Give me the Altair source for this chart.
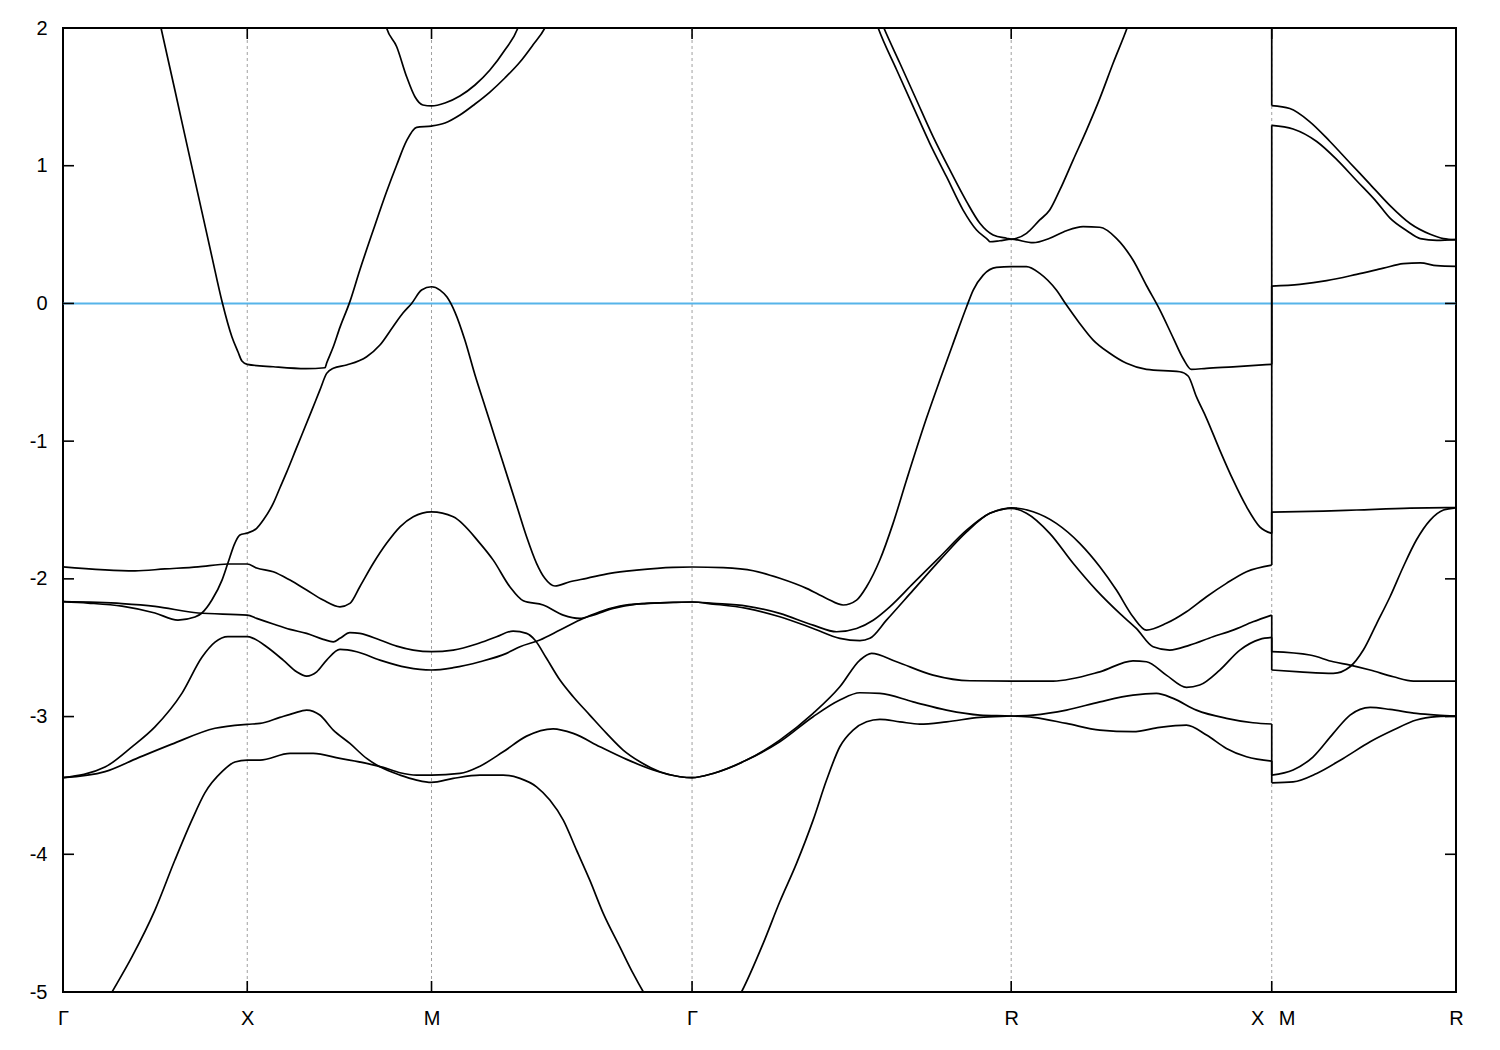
import altair as alt
import pandas as pd

# High-symmetry k positions (path length in units of |Gamma-X|)
SYM_K = [1.0, 2.0, 3.414, 5.146, 6.560]
LABEL_K = [0.0, 1.0, 2.0, 3.414, 5.146, 6.481, 6.641, 7.560]
LABEL_TEXT = ["Γ", "X", "M", "Γ", "R", "X", "M", "R"]
Y_TICKS = [-5, -4, -3, -2, -1, 0, 1, 2]
K_MIN, K_MAX = 0.0, 7.560
E_MIN, E_MAX = -5.0, 2.0
K_BREAK = 6.560

BAND_A = [
    (0.000, 2.80), (1.000, 2.60),
    (1.700, 2.35), (1.756, 2.000), (1.811, 1.864), (1.865, 1.646), (1.910, 1.501), (1.953, 1.441), (2.000, 1.434),
    (2.073, 1.455), (2.154, 1.506), (2.236, 1.586), (2.317, 1.695), (2.398, 1.840), (2.469, 2.000), (2.550, 2.40),
    (3.414, 3.40),
    (4.380, 2.25), (4.455, 2.000), (4.542, 1.744), (4.632, 1.477), (4.722, 1.211), (4.813, 0.969), (4.904, 0.739),
    (4.976, 0.582), (5.048, 0.497), (5.121, 0.473), (5.146, 0.467),
    (5.229, 0.509), (5.301, 0.606), (5.355, 0.678), (5.410, 0.824), (5.482, 1.041), (5.555, 1.259), (5.627, 1.489),
    (5.699, 1.744), (5.775, 2.000), (5.850, 2.30),
    (6.560, 2.60),
    (6.560, 1.436), (6.658, 1.415), (6.767, 1.319), (6.876, 1.176), (6.985, 1.020), (7.094, 0.865), (7.202, 0.710),
    (7.311, 0.580), (7.420, 0.502), (7.492, 0.471), (7.560, 0.463),
]

BAND_B = [
    (0.000, 3.60), (0.450, 2.50), (0.532, 2.000), (0.608, 1.544), (0.678, 1.120), (0.754, 0.665), (0.808, 0.340),
    (0.863, 0.014), (0.917, -0.244), (0.950, -0.353), (0.971, -0.418), (1.000, -0.442),
    (1.141, -0.460), (1.318, -0.474), (1.422, -0.467), (1.431, -0.433), (1.467, -0.315), (1.503, -0.174),
    (1.557, 0.013), (1.611, 0.243), (1.684, 0.533), (1.756, 0.811), (1.811, 1.005), (1.865, 1.182), (1.919, 1.279),
    (2.000, 1.288),
    (2.073, 1.310), (2.154, 1.368), (2.236, 1.448), (2.317, 1.535), (2.398, 1.637), (2.480, 1.753), (2.550, 1.876),
    (2.615, 2.000), (2.700, 2.30),
    (3.414, 3.20),
    (4.350, 2.30), (4.424, 2.000), (4.524, 1.697), (4.614, 1.429), (4.704, 1.163), (4.795, 0.920), (4.885, 0.678),
    (4.958, 0.533), (5.021, 0.460), (5.030, 0.448), (5.084, 0.455), (5.146, 0.466),
    (5.265, 0.441), (5.355, 0.473), (5.446, 0.528), (5.536, 0.557), (5.627, 0.553), (5.717, 0.473), (5.807, 0.315),
    (5.880, 0.130), (5.952, -0.045), (6.025, -0.250), (6.079, -0.400), (6.124, -0.479), (6.206, -0.471),
    (6.350, -0.460), (6.560, -0.442),
    (6.560, 1.293), (6.676, 1.267), (6.804, 1.176), (6.912, 1.046), (7.021, 0.891), (7.130, 0.736), (7.202, 0.619),
    (7.293, 0.528), (7.366, 0.471), (7.456, 0.458), (7.560, 0.463),
]

BAND_C = [
    (0.000, -2.166), (0.136, -2.176), (0.320, -2.198), (0.499, -2.248), (0.624, -2.299), (0.716, -2.277),
    (0.754, -2.248), (0.808, -2.154), (0.863, -2.009), (0.895, -1.885), (0.933, -1.740), (0.960, -1.682),
    (1.000, -1.667),
    (1.051, -1.633), (1.087, -1.573), (1.141, -1.452), (1.177, -1.340), (1.214, -1.225), (1.264, -1.060),
    (1.349, -0.780), (1.394, -0.630), (1.431, -0.508), (1.467, -0.471), (1.539, -0.447), (1.648, -0.387),
    (1.720, -0.302), (1.791, -0.169), (1.845, -0.070), (1.892, 0.000), (1.946, 0.097), (2.000, 0.121),
    (2.046, 0.097), (2.084, 0.046), (2.127, -0.063), (2.181, -0.266), (2.236, -0.520), (2.290, -0.746),
    (2.344, -0.973), (2.416, -1.274), (2.462, -1.467), (2.516, -1.694), (2.570, -1.887), (2.615, -1.996),
    (2.670, -2.052), (2.751, -2.021), (2.842, -1.996), (2.968, -1.960), (3.113, -1.936), (3.311, -1.916),
    (3.414, -1.914),
    (3.583, -1.919), (3.746, -1.941), (3.890, -1.996), (4.035, -2.069), (4.144, -2.142), (4.234, -2.190),
    (4.307, -2.154), (4.361, -2.057), (4.433, -1.863), (4.505, -1.597), (4.578, -1.282), (4.686, -0.834),
    (4.759, -0.556), (4.831, -0.290), (4.904, -0.024), (4.940, 0.097), (4.994, 0.206), (5.066, 0.262),
    (5.146, 0.267),
    (5.229, 0.267), (5.301, 0.218), (5.391, 0.097), (5.446, -0.012), (5.518, -0.145), (5.591, -0.266),
    (5.681, -0.362), (5.772, -0.435), (5.880, -0.479), (6.061, -0.496), (6.106, -0.527), (6.151, -0.677),
    (6.206, -0.834), (6.278, -1.065), (6.350, -1.282), (6.423, -1.476), (6.495, -1.622), (6.560, -1.670),
    (6.560, 0.126), (6.712, 0.139), (6.858, 0.165), (7.021, 0.211), (7.166, 0.256), (7.274, 0.289),
    (7.366, 0.294), (7.456, 0.274), (7.560, 0.269),
]

BAND_D = [
    (0.000, -1.913), (0.391, -1.942), (0.553, -1.928), (0.733, -1.913), (0.895, -1.892), (1.000, -1.892),
    (1.051, -1.921), (1.141, -1.948), (1.232, -2.009), (1.322, -2.081), (1.412, -2.154), (1.503, -2.203),
    (1.557, -2.178), (1.611, -2.057), (1.684, -1.887), (1.756, -1.742), (1.829, -1.622), (1.901, -1.549),
    (2.000, -1.513),
    (2.118, -1.549), (2.263, -1.742), (2.335, -1.864), (2.425, -2.057), (2.498, -2.159), (2.606, -2.190),
    (2.715, -2.263), (2.805, -2.287), (2.877, -2.263), (2.986, -2.214), (3.113, -2.183), (3.239, -2.174),
    (3.414, -2.168),
    (3.528, -2.178), (3.710, -2.198), (3.890, -2.251), (4.071, -2.336), (4.198, -2.384), (4.307, -2.360),
    (4.397, -2.300), (4.487, -2.203), (4.614, -2.033), (4.759, -1.840), (4.904, -1.646), (5.030, -1.524),
    (5.121, -1.488), (5.146, -1.484),
    (5.265, -1.513), (5.391, -1.597), (5.518, -1.742), (5.627, -1.912), (5.717, -2.081), (5.807, -2.275),
    (5.880, -2.372), (5.988, -2.323), (6.097, -2.239), (6.206, -2.130), (6.314, -2.033), (6.423, -1.948),
    (6.560, -1.900),
    (6.560, -1.516), (6.840, -1.508), (7.021, -1.500), (7.311, -1.487), (7.560, -1.482),
]

BAND_E = [
    (0.000, -2.166), (0.320, -2.180), (0.499, -2.200), (0.733, -2.248), (1.000, -2.263),
    (1.051, -2.287), (1.141, -2.328), (1.232, -2.367), (1.322, -2.396), (1.412, -2.439), (1.467, -2.457),
    (1.503, -2.432), (1.557, -2.391), (1.611, -2.396), (1.720, -2.444), (1.811, -2.488), (1.901, -2.517),
    (2.000, -2.529),
    (2.118, -2.517), (2.245, -2.473), (2.353, -2.420), (2.443, -2.379), (2.516, -2.396), (2.561, -2.444),
    (2.624, -2.577), (2.697, -2.735), (2.769, -2.856), (2.859, -2.989), (2.950, -3.122), (3.040, -3.243),
    (3.131, -3.328), (3.239, -3.401), (3.348, -3.437), (3.414, -3.444),
    (3.528, -3.413), (3.710, -3.316), (3.890, -3.171), (4.071, -2.977), (4.216, -2.784), (4.325, -2.590),
    (4.388, -2.541), (4.524, -2.602), (4.722, -2.699), (4.922, -2.740), (5.146, -2.742),
    (5.373, -2.742), (5.627, -2.675), (5.807, -2.595), (5.880, -2.602), (5.988, -2.699), (6.097, -2.788),
    (6.169, -2.771), (6.278, -2.662), (6.387, -2.517), (6.495, -2.439), (6.560, -2.425),
    (6.560, -2.662), (6.712, -2.675), (6.894, -2.686), (6.985, -2.638), (7.057, -2.517), (7.130, -2.323),
    (7.202, -2.130), (7.274, -1.912), (7.345, -1.718), (7.420, -1.573), (7.492, -1.500), (7.560, -1.484),
]

BAND_F = [
    (0.000, -3.444), (0.228, -3.367), (0.374, -3.220), (0.499, -3.075), (0.646, -2.830), (0.754, -2.570),
    (0.825, -2.460), (0.895, -2.420), (1.000, -2.420),
    (1.033, -2.432), (1.105, -2.493), (1.195, -2.590), (1.268, -2.675), (1.322, -2.706), (1.377, -2.675),
    (1.431, -2.590), (1.503, -2.512), (1.594, -2.529), (1.720, -2.590), (1.865, -2.643), (2.000, -2.662),
    (2.118, -2.645), (2.263, -2.602), (2.407, -2.541), (2.480, -2.493), (2.588, -2.444), (2.697, -2.372),
    (2.805, -2.299), (2.914, -2.239), (3.022, -2.198), (3.167, -2.178), (3.311, -2.171), (3.414, -2.168),
    (3.528, -2.183), (3.710, -2.214), (3.890, -2.275), (4.071, -2.360), (4.216, -2.432), (4.325, -2.449),
    (4.379, -2.432), (4.469, -2.300), (4.614, -2.082), (4.759, -1.864), (4.904, -1.659), (5.030, -1.524),
    (5.146, -1.488),
    (5.229, -1.524), (5.355, -1.670), (5.482, -1.887), (5.608, -2.082), (5.735, -2.251), (5.825, -2.360),
    (5.916, -2.493), (6.006, -2.517), (6.115, -2.481), (6.241, -2.420), (6.350, -2.372), (6.458, -2.312),
    (6.560, -2.263),
    (6.560, -2.529), (6.767, -2.553), (6.894, -2.602), (6.985, -2.626), (7.094, -2.662), (7.220, -2.711),
    (7.329, -2.742), (7.560, -2.742),
]

BAND_G = [
    (0.000, -3.444), (0.228, -3.400), (0.407, -3.300), (0.591, -3.200), (0.825, -3.085), (1.000, -3.056),
    (1.069, -3.050), (1.177, -3.006), (1.250, -2.977), (1.322, -2.953), (1.394, -2.989), (1.467, -3.098),
    (1.557, -3.195), (1.648, -3.304), (1.720, -3.365), (1.829, -3.425), (1.919, -3.461), (2.000, -3.478),
    (2.118, -3.449), (2.263, -3.425), (2.389, -3.425), (2.480, -3.449), (2.570, -3.510), (2.642, -3.606),
    (2.715, -3.752), (2.787, -3.970), (2.859, -4.188), (2.932, -4.429), (3.022, -4.672), (3.094, -4.865),
    (3.149, -4.998), (3.414, -5.450),
    (3.683, -4.998), (3.800, -4.647), (3.890, -4.345), (3.981, -4.066), (4.071, -3.752), (4.144, -3.461),
    (4.216, -3.219), (4.288, -3.098), (4.361, -3.038), (4.433, -3.020), (4.542, -3.038), (4.650, -3.055),
    (4.795, -3.038), (4.976, -3.006), (5.146, -2.996),
    (5.265, -2.989), (5.446, -2.953), (5.627, -2.893), (5.807, -2.844), (5.934, -2.832), (6.025, -2.868),
    (6.151, -2.953), (6.314, -3.013), (6.458, -3.045), (6.560, -3.054),
    (6.560, -3.425), (6.676, -3.388), (6.785, -3.292), (6.894, -3.122), (6.985, -2.989), (7.094, -2.933),
    (7.202, -2.948), (7.345, -2.977), (7.456, -2.989), (7.560, -2.996),
]

BAND_H = [
    (0.000, -5.600), (0.266, -5.000), (0.374, -4.745), (0.499, -4.405), (0.608, -4.040), (0.700, -3.750),
    (0.770, -3.554), (0.863, -3.400), (0.933, -3.330), (1.000, -3.316),
    (1.069, -3.316), (1.232, -3.267), (1.358, -3.267), (1.503, -3.304), (1.648, -3.340), (1.738, -3.369),
    (1.829, -3.408), (1.919, -3.425), (2.000, -3.425),
    (2.154, -3.413), (2.263, -3.360), (2.389, -3.256), (2.516, -3.142), (2.660, -3.089), (2.769, -3.122),
    (2.914, -3.219), (3.059, -3.311), (3.203, -3.388), (3.348, -3.437), (3.414, -3.444),
    (3.528, -3.413), (3.710, -3.316), (3.890, -3.183), (4.071, -3.001), (4.216, -2.880), (4.325, -2.827),
    (4.433, -2.832), (4.614, -2.893), (4.795, -2.953), (4.976, -2.989), (5.146, -2.996),
    (5.265, -3.006), (5.446, -3.050), (5.627, -3.098), (5.807, -3.110), (5.952, -3.078), (6.097, -3.062),
    (6.206, -3.134), (6.314, -3.231), (6.423, -3.292), (6.560, -3.323),
    (6.560, -3.481), (6.676, -3.474), (6.804, -3.413), (6.948, -3.304), (7.094, -3.183), (7.220, -3.098),
    (7.345, -3.025), (7.456, -3.001), (7.560, -2.996),
]

BANDS = {"A": BAND_A, "B": BAND_B, "C": BAND_C, "D": BAND_D,
         "E": BAND_E, "F": BAND_F, "G": BAND_G, "H": BAND_H}

# Split each band: main path (Gamma..X), the jump at the X|M break, and the M-R tail.
rows = []
for name, pts in BANDS.items():
    brk = [i for i, (k, _) in enumerate(pts) if abs(k - K_BREAK) < 1e-9]
    i0, i1 = brk[0], brk[-1]
    parts = {"main": pts[: i0 + 1], "jump": pts[i0: i1 + 1], "tail": pts[i1:]}
    for part, seg in parts.items():
        for j, (k, e) in enumerate(seg):
            rows.append({"band": f"{name}-{part}", "kind": part, "i": j, "k": k, "e": e})
df = pd.DataFrame(rows)
smooth_df = df[df["kind"] != "jump"]
jump_df = df[df["kind"] == "jump"]

W, H = 1393, 964
FONT = "Liberation Sans"
LW = 1.7

xscale = alt.Scale(domain=[K_MIN, K_MAX], nice=False, zero=False)
yscale = alt.Scale(domain=[E_MIN, E_MAX], nice=False, zero=False)

label_expr = ""
for kv, txt in zip(LABEL_K, LABEL_TEXT):
    label_expr += f"abs(datum.value - {kv}) < 0.01 ? '{txt}' : "
label_expr += "''"

x_axis = alt.Axis(values=LABEL_K, labelExpr=label_expr, ticks=False, domain=False, grid=False,
                  labelFontSize=20, labelFont=FONT, labelColor="black", labelPadding=16,
                  labelFlush=False, labelOverlap=False, labelBound=False, title=None)
y_axis = alt.Axis(values=Y_TICKS, labelExpr="'' + datum.value", ticks=False, domain=False, grid=False,
                  labelFontSize=20, labelFont=FONT, labelColor="black", labelPadding=16, title=None)

X = lambda: alt.X("k:Q", scale=xscale, axis=x_axis)
Y = lambda: alt.Y("e:Q", scale=yscale, axis=y_axis)

sym_df = pd.DataFrame({"k": SYM_K})
ytick_df = pd.DataFrame({"e": Y_TICKS})
zero_df = pd.DataFrame({"e": [0.0]})

grid = alt.Chart(sym_df).mark_rule(color="#a0a0a0", strokeWidth=1, strokeDash=[3, 3]).encode(x=X())

zero = alt.Chart(zero_df).mark_rule(color="#56b4e9", strokeWidth=2).encode(y=Y())

curves = alt.Chart(smooth_df).mark_line(color="black", strokeWidth=LW, clip=True,
                                         interpolate="monotone").encode(
    x=X(), y=Y(), detail="band:N", order="i:Q")

jumps = alt.Chart(jump_df).mark_line(color="black", strokeWidth=LW, clip=True).encode(
    x=X(), y=Y(), detail="band:N", order="i:Q")

tick_l = alt.Chart(ytick_df).mark_rule(color="black", strokeWidth=1.6).encode(
    y=Y(), x=alt.value(0), x2=alt.value(11))
tick_r = alt.Chart(ytick_df).mark_rule(color="black", strokeWidth=1.6).encode(
    y=Y(), x=alt.value(W - 11), x2=alt.value(W))
tick_t = alt.Chart(sym_df).mark_rule(color="black", strokeWidth=1.6).encode(
    x=X(), y=alt.value(0), y2=alt.value(11))
tick_b = alt.Chart(sym_df).mark_rule(color="black", strokeWidth=1.6).encode(
    x=X(), y=alt.value(H - 11), y2=alt.value(H))

chart = alt.layer(grid, zero, curves, jumps, tick_l, tick_r, tick_t, tick_b).properties(
    width=W, height=H,
    padding={"left": 55, "top": 20, "right": 36, "bottom": 50},
    autosize=alt.AutoSizeParams(type="none"),
    background="white",
).configure_view(stroke="black", strokeWidth=2)

chart.save("out.html", embed_options={"renderer": "svg", "actions": False})
